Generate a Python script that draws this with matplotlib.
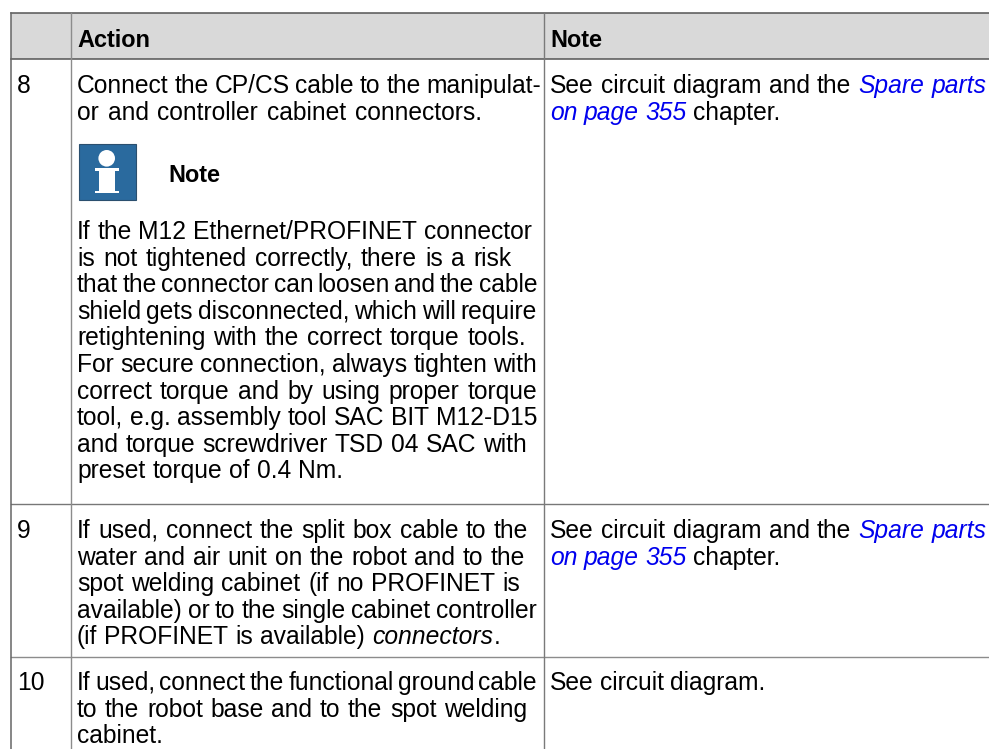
import matplotlib
matplotlib.use("Agg")
import matplotlib.pyplot as plt
from matplotlib.patches import Rectangle, Circle

plt.rcParams['font.family'] = ['Liberation Sans', 'DejaVu Sans']

W = 989
H = 749
FS = 17.7
FS_BOLD = 16.9
LINK = '#0000ee'

# table text
headers = ["Action", "Note"]
row_numbers = ["8", "9", "10"]
lines_8 = ["Connect the CP/CS cable to the manipulat-",
           "or and controller cabinet connectors."]
ends_8 = [541, 482]
note_title = "Note"
lines_note = ["If the M12 Ethernet/PROFINET connector",
              "is not tightened correctly, there is a risk",
              "that the connector can loosen and the cable",
              "shield gets disconnected, which will require",
              "retightening with the correct torque tools.",
              "For secure connection, always tighten with",
              "correct torque and by using proper torque",
              "tool, e.g. assembly tool SAC BIT M12-D15",
              "and torque screwdriver TSD 04 SAC with",
              "preset torque of 0.4 Nm."]
ends_note = [532, 511, 537, 537, 526, 537, 537, 537, 527, 343]
lines_9 = ["If used, connect the split box cable to the",
           "water and air unit on the robot and to the",
           "spot welding cabinet (if no PROFINET is",
           "available) or to the single cabinet controller"]
ends_9 = [528, 525, 520, 537]
line_9_last = [("(if PROFINET is available) ", 'normal', 'black'),
               ("connectors", 'italic', 'black'),
               (".", 'normal', 'black')]
end_9_last = 500
lines_10 = ["If used, connect the functional ground cable",
            "to the robot base and to the spot welding",
            "cabinet."]
ends_10 = [537, 527, 163]
note_8_a = [("See circuit diagram and the ", 'normal', 'black'),
            ("Spare parts", 'italic', LINK)]
note_8_b = [("on page 355", 'italic', LINK),
            (" chapter.", 'normal', 'black')]
ends_note_col = [987, 780]
note_10 = [("See circuit diagram.", 'normal', 'black')]
end_note_10 = 765

fig = plt.figure(figsize=(W / 100, H / 100), dpi=100)
ax = fig.add_axes([0, 0, 1, 1])
ax.set_xlim(0, W)
ax.set_ylim(H, 0)
ax.axis('off')
rend = fig.canvas.get_renderer()


def fit_line(x, y, parts, right):
    # place word by word, the gaps take up what the line needs to reach right
    # small lift keeps words with a comma level with the rest after pixel rounding
    y = y - 0.3
    words = []
    glue = True
    for s, style, col in parts:
        if s.startswith(" "):
            glue = False
        for k, w in enumerate(s.split()):
            t = ax.text(x, y, w, fontsize=FS, style=style, color=col, va='baseline')
            words.append((t, t.get_window_extent(rend).width, glue and k == 0 and len(words) > 0))
            glue = False
        glue = not s.endswith(" ")
    n_gaps = sum(1 for w in words[1:] if not w[2])
    total = sum(w[1] for w in words)
    gap = (right - x - total) / n_gaps if n_gaps else 0
    for t, width, glued in words:
        if not glued and t is not words[0][0]:
            x += gap
        t.set_x(x)
        x += width


def block(x, y, lines, ends, step=26.6):
    for i, s in enumerate(lines):
        # whole pixel baselines, words of a line then stay level
        fit_line(x, round(y + i * step), [(s, 'normal', 'black')], ends[i])


# header band and grid
ax.add_patch(Rectangle((11, 13), W - 11, 46, fc='#d9d9d9', ec='none'))
ax.plot([11, W], [13, 13], color='#555555', lw=1.1)
ax.plot([11, W], [59, 59], color='#555555', lw=1.1)
ax.plot([11, W], [504, 504], color='#777777', lw=1.0)
ax.plot([11, W], [657, 657], color='#8c8c8c', lw=1.0)
ax.plot([11, 11], [13, H], color='#666666', lw=1.1)
ax.plot([71, 71], [13, H], color='#8c8c8c', lw=1.0)
ax.plot([544, 544], [13, H], color='#7a7a7a', lw=1.0)

# header
ax.text(77, 47, headers[0], fontsize=FS_BOLD, fontweight='bold', va='baseline')
ax.text(550, 47, headers[1], fontsize=FS_BOLD, fontweight='bold', va='baseline')

# row numbers
ax.text(17, 93, row_numbers[0], fontsize=FS, va='baseline')
ax.text(17, 538, row_numbers[1], fontsize=FS, va='baseline')
ax.text(17, 690, row_numbers[2], fontsize=FS, va='baseline')

# action column
block(77, 93, lines_8, ends_8)
ax.add_patch(Rectangle((79, 143.5), 56.5, 56.5, fc='#2a6a9e', ec='#2b4f6e', lw=0.8))
ax.add_patch(Circle((106.7, 158.3), 8.3, fc='white', ec='none'))
ax.add_patch(Rectangle((95, 168.3), 24.3, 2.4, fc='white', ec='none'))
ax.add_patch(Rectangle((99.3, 168.3), 15.7, 24, fc='white', ec='none'))
ax.add_patch(Rectangle((95, 190.8), 24.3, 2.5, fc='white', ec='none'))
ax.text(168, 182, note_title, fontsize=FS_BOLD, fontweight='bold', va='baseline')
block(77, 239, lines_note, ends_note)
block(77, 538, lines_9, ends_9)
fit_line(77, 644, line_9_last, end_9_last)
block(77, 690, lines_10, ends_10)

# note column
fit_line(550, 93, note_8_a, ends_note_col[0])
fit_line(550, 120, note_8_b, ends_note_col[1])
fit_line(550, 538, note_8_a, ends_note_col[0])
fit_line(550, 565, note_8_b, ends_note_col[1])
fit_line(550, 690, note_10, end_note_10)

fig.savefig('out.png', dpi=100)
